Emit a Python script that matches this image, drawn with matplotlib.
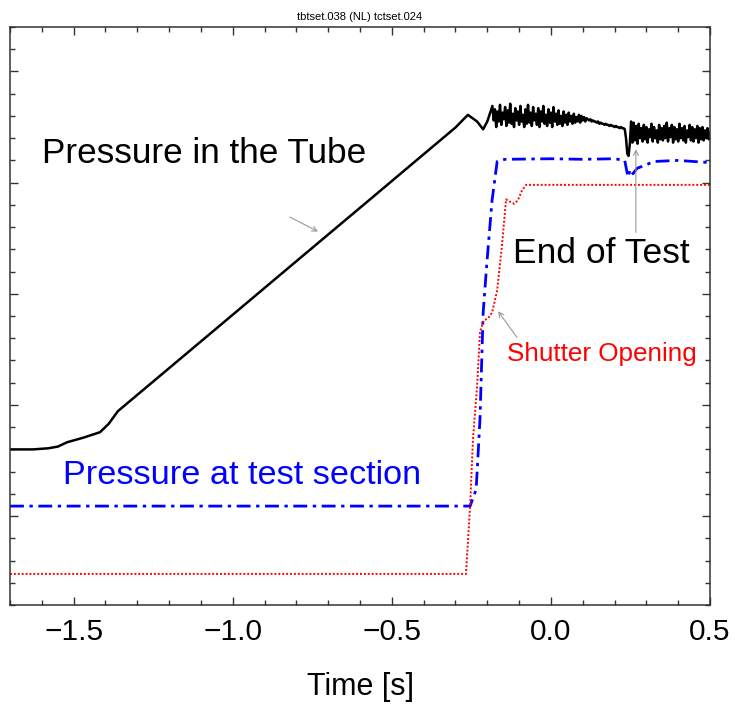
import numpy as np
import matplotlib.pyplot as plt
from matplotlib.ticker import MultipleLocator

plt.rcParams['font.family'] = ['Liberation Sans', 'DejaVu Sans']

# tube pressure: slow start, linear ramp, then the noisy plateau
tube_t = [-1.700, -1.628, -1.580, -1.550, -1.520, -1.470, -1.417, -1.390, -1.361,
          -1.300, -1.250, -1.200, -1.150, -1.100, -1.050, -1.000, -0.950, -0.900,
          -0.850, -0.800, -0.750, -0.700, -0.650, -0.600, -0.550, -0.500, -0.450,
          -0.400, -0.350, -0.300, -0.261, -0.232, -0.213, -0.200]
tube_p = [0.600, 0.600, 0.610, 0.625, 0.665, 0.705, 0.755, 0.830, 0.944,
          1.091, 1.211, 1.331, 1.451, 1.572, 1.692, 1.812, 1.932, 2.053,
          2.173, 2.293, 2.413, 2.534, 2.654, 2.774, 2.894, 3.015, 3.135,
          3.255, 3.375, 3.496, 3.610, 3.550, 3.480, 3.550]

# plateau samples, 4 ms apart starting at -0.184 s
plateau_t0 = -0.184
plateau_dt = 0.004
plateau_p = [3.69, 3.56, 3.66, 3.50, 3.64, 3.55, 3.70, 3.52, 3.63, 3.57,
             3.68, 3.51, 3.65, 3.54, 3.71, 3.53, 3.62, 3.50, 3.67, 3.56,
             3.64, 3.52, 3.69, 3.55, 3.61, 3.50, 3.66, 3.53, 3.70, 3.54,
             3.63, 3.51, 3.68, 3.56, 3.62, 3.52, 3.67, 3.50, 3.64, 3.55,
             3.69, 3.53, 3.61, 3.51, 3.66, 3.54, 3.63, 3.50, 3.68, 3.55,
             3.62, 3.52, 3.65, 3.53, 3.60, 3.51, 3.64, 3.54, 3.61, 3.52,
             3.63, 3.55, 3.60, 3.53, 3.62, 3.54, 3.59, 3.55, 3.61, 3.54,
             3.60, 3.56, 3.59, 3.55, 3.58,
             3.57, 3.56, 3.57, 3.55, 3.56, 3.55, 3.55, 3.54, 3.55, 3.53,
             3.54, 3.53, 3.53, 3.52, 3.53, 3.52, 3.52, 3.51, 3.52, 3.51,
             3.51, 3.50, 3.51, 3.50, 3.50, 3.49, 3.50, 3.49, 3.49, 3.48,
             3.40, 3.26, 3.24, 3.35, 3.55,
             3.36, 3.54, 3.38, 3.51, 3.35, 3.53, 3.40, 3.49, 3.37, 3.52,
             3.39, 3.50, 3.36, 3.48, 3.41, 3.53, 3.37, 3.50, 3.40, 3.47,
             3.36, 3.52, 3.39, 3.49, 3.38, 3.51, 3.40, 3.54, 3.37, 3.49,
             3.41, 3.52, 3.36, 3.50, 3.39, 3.48, 3.37, 3.53, 3.40, 3.49,
             3.38, 3.51, 3.36, 3.47, 3.41, 3.52, 3.38, 3.50, 3.37, 3.48,
             3.40, 3.51, 3.36, 3.49, 3.39, 3.50, 3.38, 3.47, 3.40, 3.49,
             3.39, 3.45]

# pressure at the test section
test_t = [-1.700, -0.600, -0.254, -0.235, -0.223, -0.213, -0.201, -0.185, -0.169,
          -0.144, 0.000, 0.100, 0.200, 0.232, 0.242, 0.250, 0.258, 0.271,
          0.300, 0.321, 0.400, 0.500]
test_p = [0.090, 0.090, 0.090, 0.240, 0.870, 1.830, 2.290, 2.840, 3.190,
          3.210, 3.215, 3.210, 3.215, 3.200, 3.050, 3.120, 3.080, 3.130,
          3.160, 3.190, 3.200, 3.180]

# shutter signal
shutter_t = [-1.700, -0.267, -0.254, -0.245, -0.232, -0.223, -0.213, -0.195,
             -0.185, -0.169, -0.154, -0.141, -0.129, -0.116, -0.104, -0.091,
             -0.078, 0.500]
shutter_p = [-0.520, -0.520, 0.090, 0.690, 1.170, 1.650, 1.750, 1.790,
             1.830, 2.030, 2.430, 2.850, 2.830, 2.810, 2.840, 2.930,
             2.980, 2.980]

plateau_t = plateau_t0 + plateau_dt * np.arange(len(plateau_p))
t_tube = np.concatenate([tube_t, plateau_t])
p_tube = np.concatenate([tube_p, plateau_p])

fig = plt.figure(figsize=(7.36, 7.04), dpi=100)
ax = fig.add_axes([0.0136, 0.1406, 0.9511, 0.821])

ax.plot(t_tube, p_tube, color='black', lw=1.8)
ax.plot(test_t, test_p, color='#0000ff', lw=2.0, linestyle=(0, (5, 2, 1.2, 2)))
ax.plot(shutter_t, shutter_p, color='#ff0000', lw=1.4, linestyle=(0, (1, 1)))

ax.set_xlim(-1.7, 0.5)
ax.set_ylim(-0.8, 4.4)
ax.xaxis.set_major_locator(MultipleLocator(0.5))
ax.xaxis.set_minor_locator(MultipleLocator(0.1))
ax.yaxis.set_major_locator(MultipleLocator(1.0))
ax.yaxis.set_minor_locator(MultipleLocator(0.2))
ax.tick_params(which='both', direction='in', top=True, right=True,
               labelleft=False, width=1.0, color='#333333')
ax.tick_params(which='major', length=6, labelsize=21.5, pad=9)
ax.tick_params(which='minor', length=3.5)
ax.xaxis.set_major_formatter(plt.FuncFormatter(lambda v, _: f'{v:.1f}'.replace('-', '\u2212')))
for s in ax.spines.values():
    s.set_linewidth(1.1)
    s.set_color('#333333')

ax.set_xlabel('Time [s]', fontsize=22, labelpad=19)
ax.set_title('tbtset.038 (NL) tctset.024', fontsize=8, pad=5)

ax.text(-1.599, 3.18, 'Pressure in the Tube', fontsize=25.3, color='black')
ax.text(-1.533, 0.288, 'Pressure at test section', fontsize=24.7, color='#0000ff')
ax.text(-0.119, 2.274, 'End of Test', fontsize=25.5, color='black')
ax.text(-0.138, 1.393, 'Shutter Opening', fontsize=18.8, color='#ff0000')

arrow = dict(arrowstyle='->,head_length=0.35,head_width=0.18', color='#999999',
             lw=0.8, shrinkA=0, shrinkB=0)
ax.annotate('', xy=(-0.732, 2.56), xytext=(-0.820, 2.69), arrowprops=arrow)
ax.annotate('', xy=(0.267, 3.30), xytext=(0.267, 2.553), arrowprops=arrow)
ax.annotate('', xy=(-0.166, 1.843), xytext=(-0.107, 1.609), arrowprops=arrow)

fig.savefig('out.png', dpi=100)
